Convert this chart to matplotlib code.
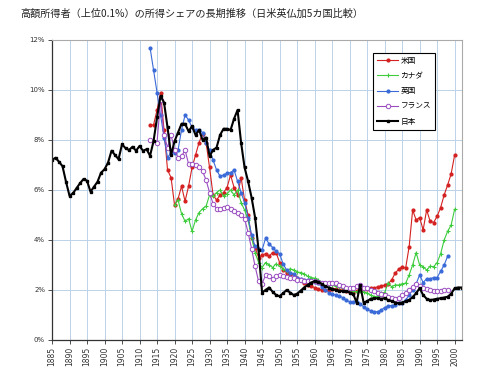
import matplotlib
matplotlib.use("Agg")
import matplotlib.pyplot as plt
import numpy as np

plt.rcParams['font.family'] = ['Noto Sans CJK JP', 'DejaVu Sans']

title = "高額所得者（上位0.1%）の所得シェアの長期推移（日米英仏加5カ国比較）"
labels = ["米国", "カナダ", "英国", "フランス", "日本"]
colors = ["#d42020", "#3ccc3c", "#3a6ad8", "#9a4cc0", "#000000"]

us_start = 1913
us = [8.6, 8.6, 9.2, 9.9, 8.4, 6.8, 6.5, 5.4, 5.65, 6.15,
      5.55, 6.15, 6.9, 7.4, 7.9, 8.25, 7.9, 6.9, 5.8, 5.6,
      5.8, 5.9, 6.1, 6.6, 6.1, 5.8, 6.5, 5.6, 5.0, 4.1,
      3.7, 3.3, 3.4, 3.45, 3.35, 3.5, 3.5, 3.1, 2.8, 2.7,
      2.65, 2.6, 2.5, 2.4, 2.3, 2.2, 2.15, 2.1, 2.05, 2.0,
      2.0, 2.0, 2.05, 2.05, 2.0, 2.0, 1.97, 1.92, 1.9, 1.95,
      2.05, 2.05, 2.05, 2.07, 2.07, 2.13, 2.15, 2.2, 2.25, 2.4,
      2.67, 2.83, 2.93, 2.87, 3.73, 5.2, 4.8, 4.9, 4.4, 5.2,
      4.75, 4.7, 4.95, 5.3, 5.8, 6.2, 6.65, 7.4]

ca_start = 1920
canada = [5.4, 5.6, 5.05, 4.75, 4.85, 4.35, 4.8, 5.1, 5.25, 5.35,
          5.8, 5.75, 5.9, 6.0, 5.75, 5.85, 6.0, 5.8, 6.0, 5.5,
          5.2, 4.8, 4.1, 3.5, 3.1, 2.9, 3.1, 3.0, 2.9, 3.05,
          2.95, 2.85, 2.75, 2.85, 2.8, 2.72, 2.7, 2.65, 2.55, 2.5,
          2.47, 2.4, 2.3, 2.25, 2.2, 2.2, 2.15, 2.12, 2.07, 2.05,
          2.0, 1.97, 1.93, 1.98, 1.92, 1.87, 1.8, 1.73, 1.75, 1.87,
          1.9, 2.27, 2.13, 2.2, 2.2, 2.25, 2.27, 2.6, 3.0, 3.5,
          3.0, 2.93, 2.8, 2.95, 2.93, 3.1, 3.45, 4.0, 4.35, 4.6,
          5.23]

uk_start = 1913
uk = [11.7, 10.8, 9.9, 9.0, 8.1, 7.3, 7.5, 7.5, 7.6, 8.4,
      9.0, 8.8, 8.5, 8.4, 8.4, 8.3, 7.9, 7.6, 7.2, 6.8,
      6.55, 6.6, 6.67, 6.7, 6.8, 6.35, 5.9, 5.5, 4.9, 4.2,
      3.75, 3.65, 3.6, 4.07, 3.85, 3.7, 3.55, 3.45, 3.05, 2.8,
      2.7, 2.65, 2.5, 2.45, 2.4, 2.4, 2.35, 2.33, 2.27, 2.13,
      2.0, 1.9, 1.85, 1.8, 1.76, 1.7, 1.6, 1.53, 1.53, 1.53,
      1.45, 1.33, 1.23, 1.17, 1.13, 1.13, 1.2, 1.3, 1.36, 1.38,
      1.4, 1.47, 1.5, 1.6, 1.8, 2.0, 2.25, 2.6, 2.3, 2.45,
      2.45, 2.5, 2.5, 2.75, 3.0, 3.35]

fr_years = [1913] + list(range(1915, 1999))
france = [8.0, 7.9, 9.6, 8.2, 7.7, 8.2, 7.6, 7.3, 7.35, 7.6,
          7.05, 7.05, 7.0, 6.9, 6.75, 6.4, 5.9, 5.45, 5.25, 5.25,
          5.3, 5.33, 5.25, 5.15, 5.07, 5.0, 4.85, 4.3, 3.65, 2.95,
          2.35, 2.25, 2.6, 2.55, 2.45, 2.55, 2.6, 2.55, 2.52, 2.5,
          2.48, 2.42, 2.4, 2.38, 2.35, 2.35, 2.35, 2.33, 2.3, 2.28,
          2.27, 2.27, 2.27, 2.22, 2.16, 2.1, 2.07, 2.1, 2.15, 2.2,
          2.1, 2.08, 2.02, 1.97, 1.9, 1.85, 1.8, 1.73, 1.68, 1.63,
          1.7, 1.8, 1.9, 2.0, 2.13, 2.24, 2.16, 2.1, 2.05, 2.0,
          1.97, 1.97, 1.98, 2.0, 2.0]

jp_start = 1885
japan = [7.2, 7.29, 7.13, 6.95, 6.33, 5.77, 5.87, 6.07, 6.27, 6.44,
         6.37, 5.93, 6.13, 6.33, 6.69, 6.83, 7.09, 7.57, 7.4, 7.23,
         7.83, 7.67, 7.6, 7.73, 7.57, 7.76, 7.57, 7.63, 7.37, 7.95,
         8.9, 9.75, 9.5, 8.5, 7.4, 7.95, 8.3, 8.65, 8.65, 8.35,
         8.55, 8.2, 8.4, 8.0, 8.1, 7.35, 7.6, 7.7, 8.2, 8.45,
         8.45, 8.4, 8.85, 9.2, 7.9, 6.9, 6.35, 5.7, 4.9, 3.6,
         1.9, 2.0, 2.1, 1.93, 1.8, 1.75, 1.87, 2.0, 1.9, 1.8,
         1.85, 1.97, 2.1, 2.2, 2.3, 2.35, 2.33, 2.25, 2.15, 2.1,
         2.05, 2.0, 1.97, 1.95, 1.95, 1.9, 1.85, 1.5, 2.2, 1.5,
         1.55, 1.65, 1.67, 1.67, 1.65, 1.67, 1.6, 1.55, 1.5, 1.47,
         1.5, 1.55, 1.6, 1.72, 1.87, 2.07, 1.8, 1.65, 1.6, 1.62,
         1.65, 1.67, 1.7, 1.73, 1.85, 2.07, 2.1, 2.1]

ytick_vals = [0, 2, 4, 6, 8, 10, 12]
xtick_years = list(range(1885, 2001, 5))

fig = plt.figure(figsize=(4.8, 3.77), dpi=100)
ax = fig.add_axes([52/480, 37/377, 410/480, 300/377])

def yrs(start, vals):
    return np.arange(start, start + len(vals))

series = [
    (yrs(us_start, us), us, dict(marker='o', ms=2.0, lw=0.8)),
    (yrs(ca_start, canada), canada, dict(marker='+', ms=3.0, mew=0.8, lw=0.8)),
    (yrs(uk_start, uk), uk, dict(marker='o', ms=2.0, lw=0.8)),
    (np.array(fr_years), france, dict(marker='o', ms=3.2, mfc='white', mew=0.7, lw=0.8)),
    (yrs(jp_start, japan), japan, dict(marker='s', ms=2.0, lw=1.5)),
]
for (x, v, st), lab, c in zip(series, labels, colors):
    ax.plot(x, np.array(v) / 100.0, color=c, label=lab, **st)

ax.set_xlim(1885, 2002.1)
ax.set_ylim(0, 0.12)
ax.set_yticks([v / 100 for v in ytick_vals])
ax.set_yticklabels([f"{v}%" for v in ytick_vals], fontsize=5, family='DejaVu Sans')
ax.set_xticks(xtick_years)
ax.set_xticklabels([str(y) for y in xtick_years], rotation=90, fontsize=5.5, family='DejaVu Sans')
ax.tick_params(axis='both', length=3, width=0.6, pad=2, colors='#333333')
ax.grid(True, color='#bcd2e8', lw=0.7)
ax.set_axisbelow(True)
for s in ['top', 'right']:
    ax.spines[s].set_color('#aaaaaa')
    ax.spines[s].set_linewidth(0.8)
for s in ['left', 'bottom']:
    ax.spines[s].set_color('#333333')
    ax.spines[s].set_linewidth(0.9)

leg = ax.legend(loc='upper left', bbox_to_anchor=(0.783, 0.957), fontsize=5.5,
                frameon=True, fancybox=False, edgecolor='black', framealpha=1,
                handlelength=2.8, labelspacing=0.95, borderpad=0.5, handletextpad=0.3,
                borderaxespad=0)
leg.get_frame().set_linewidth(0.8)

fig.text(0.042, 0.963, title, fontsize=7.3, va='center', ha='left', color='#222222')

fig.savefig("out.png", dpi=100)
